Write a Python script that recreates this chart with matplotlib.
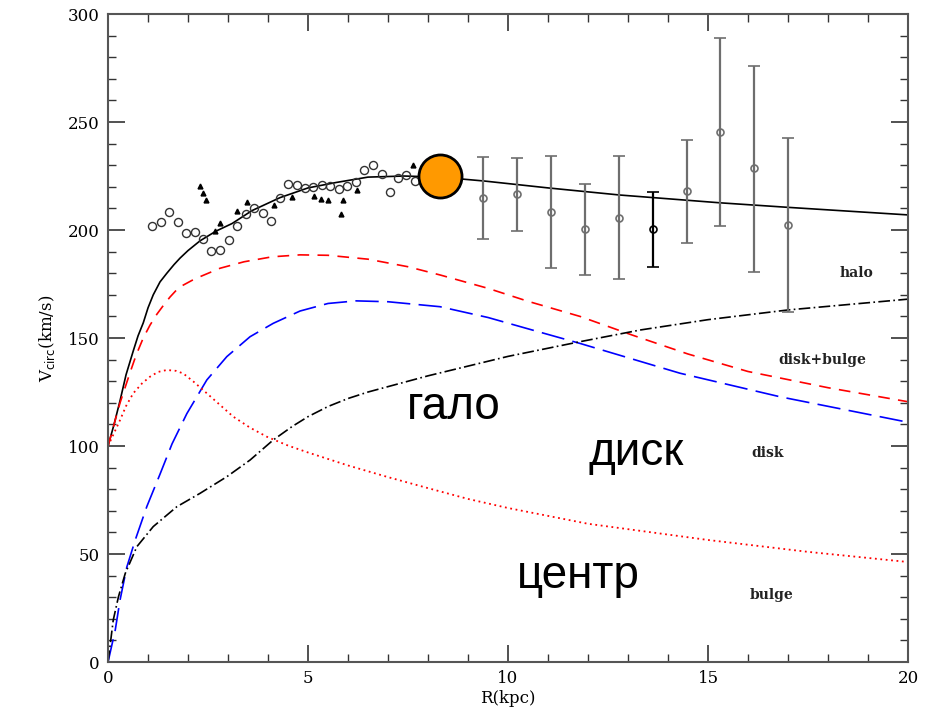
import numpy as np
import matplotlib
matplotlib.use("Agg")
import matplotlib.pyplot as plt
from matplotlib.ticker import MultipleLocator

# total rotation curve (solid black)
total_r = [0, 0.15, 0.3, 0.45, 0.63, 0.75, 0.88, 1.0, 1.13, 1.3, 1.47, 1.65, 1.8, 2.0, 2.3,
           2.7, 3.1, 3.6, 4.3, 5.0, 5.7, 6.5, 7.4, 8.3, 9.4, 11.0, 12.8, 15.3, 17.0, 20.0]
total_v = [100, 110, 121, 133, 144, 151, 157, 164, 170, 176, 180, 184, 187, 190.5, 195,
           199.5, 203, 209, 215, 219.5, 222, 224.5, 225, 224.5, 222.7, 219.5, 216.2, 212.6, 210.5, 207]

# disk+bulge (red dashed)
db_r = [0, 0.15, 0.3, 0.55, 0.7, 0.88, 1.05, 1.22, 1.4, 1.55, 1.7, 1.88, 2.1, 2.3, 2.8, 3.4,
        4.1, 4.8, 5.5, 6.5, 7.5, 8.3, 9.5, 10.5, 11.8, 13.1, 14.5, 16.0, 18.0, 20.0]
db_v = [100, 110, 120, 134, 142, 150, 156, 161, 165.5, 169, 172, 174.5, 176.7, 178.4, 182.3, 185.3,
        187.6, 188.5, 188.3, 186.5, 183, 179.2, 173, 167, 160, 151.4, 142.6, 134.5, 127, 120.5]

# disk (blue long dash)
disk_r = [0, 0.18, 0.3, 0.47, 0.68, 0.97, 1.3, 1.6, 1.97, 2.47, 2.97, 3.55, 4.13, 4.8,
          5.5, 6.2, 7.0, 8.3, 9.5, 10.55, 11.8, 14.3, 16.8, 20.0]
disk_v = [0, 14.8, 28.7, 44, 56.5, 72, 87, 101, 115, 130.6, 141.4, 150.6, 156.8, 162.5,
          166, 167.2, 166.8, 164.5, 159.5, 154, 147.5, 133.7, 122.8, 111]

# bulge (red dotted)
bulge_r = [0, 0.15, 0.3, 0.45, 0.63, 0.85, 1.05, 1.25, 1.47, 1.7, 1.88, 2.15, 2.47, 2.8, 3.13,
           3.55, 3.97, 4.5, 5.0, 5.5, 6.0, 7.0, 8.0, 9.0, 10.0, 12.0, 15.0, 17.5, 20.0]
bulge_v = [100, 106, 112, 118.5, 124.4, 129, 132.1, 134.3, 135.2, 134.8, 133.6, 129.6, 124.4, 119, 113.6,
           108.5, 104.3, 100.2, 97, 94, 91, 85.6, 80.5, 75.5, 71.3, 64, 56.5, 51, 46.3]

# halo (black dash-dot)
halo_r = [0, 0.13, 0.26, 0.43, 0.72, 1.13, 1.72, 2.3, 2.97, 3.55, 4.13, 4.6, 5.0, 5.5, 6.0,
          6.5, 7.0, 8.0, 9.0, 10.0, 11.8, 13.3, 15.0, 17.0, 20.0]
halo_v = [0, 19.4, 30.2, 41, 53.4, 62.7, 71.9, 78.1, 85.8, 93.5, 102.8, 109, 113.6, 118.3, 122,
          125, 127.5, 132.5, 137, 141.5, 148.3, 153.7, 158.5, 163, 168]

# inner observations: open circles and triangles
circ_r = [1.09, 1.32, 1.53, 1.74, 1.95, 2.17, 2.38, 2.58, 2.8, 3.02, 3.22, 3.44, 3.65, 3.87,
          4.08, 4.3, 4.5, 4.72, 4.93, 5.13, 5.34, 5.55, 5.77, 5.98, 6.19, 6.41, 6.62, 6.84,
          7.04, 7.25, 7.46, 7.67]
circ_v = [202.0, 203.7, 208.3, 203.7, 198.5, 198.9, 195.7, 190.1, 190.7, 195.4, 201.7, 207.3,
          210.0, 207.7, 204.3, 214.7, 221.4, 220.7, 219.6, 220.0, 220.7, 220.2, 218.8, 220.4,
          222.1, 227.6, 230.2, 225.8, 217.5, 224.0, 225.5, 222.8]
tri_r = [2.31, 2.38, 2.46, 2.67, 2.8, 3.22, 3.48, 4.15, 4.6, 5.15, 5.33, 5.5, 5.83, 5.88, 6.23, 7.63]
tri_v = [220.4, 217.0, 213.7, 199.5, 203.1, 209.0, 213.1, 211.6, 215.3, 215.7, 214.4, 213.7,
         207.5, 213.7, 218.5, 230.2]

# outer observations with error bars
eb_r = [9.38, 10.23, 11.08, 11.93, 12.78, 13.62, 14.47, 15.3, 16.16, 17.0]
eb_v = [214.7, 216.5, 208.2, 200.3, 205.7, 200.3, 217.9, 245.2, 228.9, 202.3]
eb_hi = [233.6, 233.2, 234.4, 221.4, 234.4, 217.7, 241.9, 288.7, 276.1, 242.6]
eb_lo = [196.0, 199.4, 182.3, 179.2, 177.2, 182.7, 194.1, 202.0, 180.7, 162.2]

sun_r, sun_v = 8.3, 225

serif = "DejaVu Serif"

fig = plt.figure(figsize=(9.29, 7.16), dpi=100)
ax = fig.add_axes([0.1163, 0.0754, 0.8611, 0.905])

ax.plot(total_r, total_v, color="black", lw=1.2)
ax.plot(db_r, db_v, color="red", lw=1.2, dashes=(7, 5))
ax.plot(disk_r, disk_v, color="blue", lw=1.2, dashes=(14, 5))
ax.plot(bulge_r, bulge_v, color="red", lw=1.3, linestyle=(0, (1, 2)))
ax.plot(halo_r, halo_v, color="black", lw=1.2, dashes=(7, 2, 1, 2))

ax.plot(circ_r, circ_v, "o", ms=5.8, mfc="none", mec="#333333", mew=1.0)
ax.plot(tri_r, tri_v, "^", ms=3.5, color="black")

eb_v = np.array(eb_v)
yerr = [eb_v - np.array(eb_lo), np.array(eb_hi) - eb_v]
for i in range(len(eb_r)):
    col = "black" if i == 5 else "#6e6e6e"
    ax.errorbar(eb_r[i], eb_v[i], yerr=[[yerr[0][i]], [yerr[1][i]]], fmt="o", ms=5,
                mfc="none", mec=col, mew=1.2, ecolor=col, elinewidth=1.6, capsize=4, capthick=1.4)

ax.plot(sun_r, sun_v, "o", ms=31, color="#FF9900", mec="black", mew=2, zorder=10)

# component labels
lab_kw = dict(fontsize=10, family=serif, ha="center", va="center", color="#222222", fontweight="bold")
ax.text(18.7, 180, "halo", **lab_kw)
ax.text(17.85, 140, "disk+bulge", **lab_kw)
ax.text(16.5, 97, "disk", **lab_kw)
ax.text(16.6, 31, "bulge", **lab_kw)

ax.text(8.65, 118, "гало", fontsize=33, family="Liberation Sans", ha="center", va="center")
ax.text(13.2, 97, "диск", fontsize=33, family="Liberation Sans", ha="center", va="center")
ax.text(11.75, 40, "центр", fontsize=33, family="Liberation Sans", ha="center", va="center")

ax.set_xlim(0, 20)
ax.set_ylim(0, 300)
ax.xaxis.set_major_locator(MultipleLocator(5))
ax.xaxis.set_minor_locator(MultipleLocator(1))
ax.yaxis.set_major_locator(MultipleLocator(50))
ax.yaxis.set_minor_locator(MultipleLocator(10))
ax.tick_params(which="both", direction="in", top=True, right=True, color="#333333")
ax.tick_params(which="major", length=12, width=1.2, labelsize=12, pad=6)
ax.tick_params(which="minor", length=6, width=1.0)
for lab in ax.get_xticklabels() + ax.get_yticklabels():
    lab.set_family(serif)
for sp in ax.spines.values():
    sp.set_color("#555555")
    sp.set_linewidth(1.5)

ax.set_xlabel("R(kpc)", fontsize=12, family=serif, labelpad=2)
ax.set_ylabel(r"V$_{\rm circ}$(km/s)", fontsize=12, family=serif, labelpad=8)

fig.savefig("out.png", dpi=100)
